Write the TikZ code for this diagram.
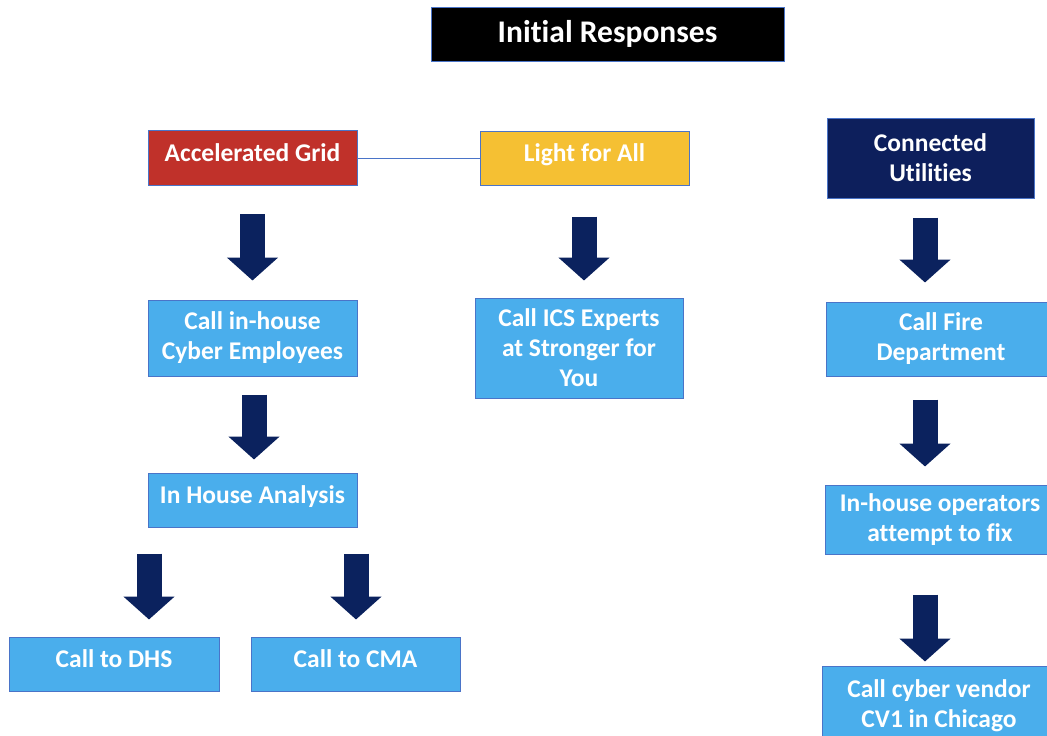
\documentclass[tikz,border=0pt]{standalone}
\usepackage{fontspec}
\setmainfont[Ligatures=NoCommon]{Carlito}
\usetikzlibrary{arrows.meta}
\definecolor{agred}{HTML}{C0312A}
\definecolor{lfayellow}{HTML}{F5C033}
\definecolor{cunavy}{HTML}{0D1F5C}
\definecolor{stepblue}{HTML}{4AAEEC}
\definecolor{edgeblue}{HTML}{4A74C8}
\definecolor{arrownavy}{HTML}{0B225E}
\begin{document}
\begin{tikzpicture}[x=1pt,y=-1pt,
  box/.style={draw=edgeblue, line width=1pt, text=white, font=\bfseries\fontsize{25.5}{30}\selectfont, align=center, inner sep=0pt, anchor=center},
  stepbox/.style={box, fill=stepblue},
  oneline/.style={text depth=10pt},
  bigarrow/.style={draw=arrownavy, line width=25pt, -{Triangle[width=50pt,length=23pt]}},
  linkline/.style={draw=edgeblue, line width=1pt}]
\useasboundingbox (0,0) rectangle (1047,736);
\clip (0,0) rectangle (1047,736);
\node[box, fill=black, minimum width=353pt, minimum height=54pt, font=\bfseries\fontsize{31.5}{36}\selectfont] (title) at (607.5,34) {Initial Responses};
\node[box, oneline, fill=agred, minimum width=209pt, minimum height=55pt] (ag) at (252.5,158) {Accelerated Grid};
\node[box, oneline, fill=lfayellow, minimum width=209pt, minimum height=54pt] (lfa) at (584.5,158) {Light for All};
\node[box, fill=cunavy, minimum width=207pt, minimum height=80pt] (cu) at (930.5,158) {Connected\\Utilities};
\node[stepbox, minimum width=209pt, minimum height=76pt] (ci) at (252.5,338) {Call in-house\\Cyber Employees};
\node[stepbox, minimum width=208pt, minimum height=100pt] (ics) at (579,348) {Call ICS Experts\\at Stronger for\\You};
\node[stepbox, minimum width=230pt, minimum height=74pt] (cfd) at (941,339) {Call Fire\\Department};
\node[stepbox, oneline, minimum width=209pt, minimum height=54pt] (iha) at (252.5,500) {In House Analysis};
\node[stepbox, oneline, minimum width=210pt, minimum height=54pt] (dhs) at (114,664) {Call to DHS};
\node[stepbox, oneline, minimum width=209pt, minimum height=54pt] (cma) at (355.5,664) {Call to CMA};
\node[stepbox, minimum width=230pt, minimum height=69pt] (iho) at (940,519.5) {In-house operators\\attempt to fix};
\node[stepbox, minimum width=234pt, minimum height=80pt] (ccv) at (939,706) {Call cyber vendor\\CV1 in Chicago};
\draw[linkline] (ag.east) -- (lfa.west);
\draw[bigarrow] ([yshift=-28pt]ag.south) -- ([yshift=19pt]ci.north);
\draw[bigarrow] ([xshift=-0.5pt,yshift=-31pt]lfa.south) -- ([xshift=5pt,yshift=17pt]ics.north);
\draw[bigarrow] ([xshift=1.5pt,yshift=-18pt]ci.south) -- ([xshift=1.5pt,yshift=13pt]iha.north);
\draw[bigarrow] ([xshift=-103.5pt,yshift=-26pt]iha.south) -- ([xshift=35pt,yshift=17pt]dhs.north);
\draw[bigarrow] ([xshift=103.5pt,yshift=-26pt]iha.south) -- ([xshift=0.5pt,yshift=17pt]cma.north);
\draw[bigarrow] ([xshift=-5.5pt,yshift=-19pt]cu.south) -- ([xshift=-16pt,yshift=19pt]cfd.north);
\draw[bigarrow] ([xshift=-16pt,yshift=-23pt]cfd.south) -- ([xshift=-15pt,yshift=18pt]iho.north);
\draw[bigarrow] ([xshift=-15pt,yshift=-40pt]iho.south) -- ([xshift=-14pt,yshift=4pt]ccv.north);
\end{tikzpicture}
\end{document}
